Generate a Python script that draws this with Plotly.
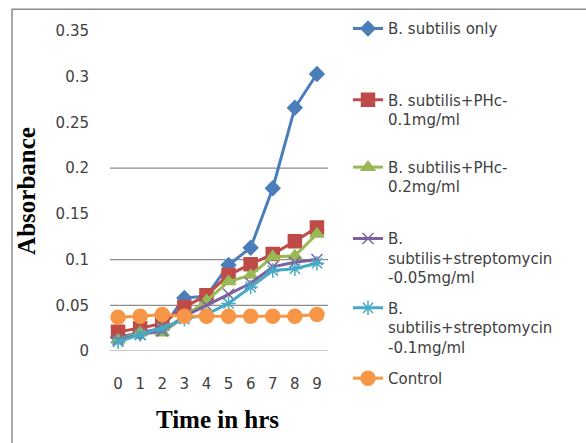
import plotly.graph_objects as go

# Growth curves: absorbance readings over time
hours = [0, 1, 2, 3, 4, 5, 6, 7, 8, 9]
hour_labels = [str(h) for h in hours]

bs_only = [0.015, 0.020, 0.025, 0.058, 0.060, 0.094, 0.113, 0.178, 0.266, 0.303]
bs_phc_01 = [0.021, 0.025, 0.030, 0.048, 0.061, 0.083, 0.095, 0.106, 0.120, 0.135]
bs_phc_02 = [0.012, 0.020, 0.020, 0.038, 0.055, 0.076, 0.083, 0.103, 0.104, 0.128]
bs_strep_005 = [0.012, 0.018, 0.022, 0.038, 0.050, 0.062, 0.074, 0.092, 0.097, 0.100]
bs_strep_01 = [0.010, 0.018, 0.025, 0.035, 0.040, 0.052, 0.070, 0.088, 0.090, 0.096]
control = [0.037, 0.038, 0.040, 0.038, 0.038, 0.038, 0.038, 0.038, 0.038, 0.040]

series_names = [
    "B. subtilis only",
    "B. subtilis+PHc-<br>0.1mg/ml",
    "B. subtilis+PHc-<br>0.2mg/ml",
    "B.<br>subtilis+streptomycin<br>-0.05mg/ml",
    "B.<br>subtilis+streptomycin<br>-0.1mg/ml",
    "Control",
]
series_values = [bs_only, bs_phc_01, bs_phc_02, bs_strep_005, bs_strep_01, control]

y_ticks = [0, 0.05, 0.1, 0.15, 0.2, 0.25, 0.3, 0.35]
y_tick_labels = ["0", "0.05", "0.1", "0.15", "0.2", "0.25", "0.3", "0.35"]
grid_values = [0, 0.05, 0.1, 0.2]

colors = ["#4A7EBB", "#BE4B48", "#98B954", "#7D60A0", "#46AAC5", "#F79646"]
symbols = ["diamond", "square", "triangle-up", "x-thin-open", "asterisk-open", "circle"]
marker_sizes = [11, 13, 12, 11, 12, 14]

# pixel geometry of the page
W, H = 586, 443
ML, MR, MT, MB = 107, 258, 28, 92
PW, PH = W - ML - MR, H - MT - MB


def px_x(p):
    return (p - ML) / PW


def px_y(p):
    return (H - MB - p) / PH


legend_tops = [9, 81, 149, 221, 291, 362]

fig = go.Figure()
for i, (name, vals) in enumerate(zip(series_names, series_values)):
    lg = "legend" if i == 0 else f"legend{i + 1}"
    fig.add_trace(go.Scatter(
        x=hour_labels, y=vals, name=name, mode="lines+markers",
        line=dict(color=colors[i], width=3),
        marker=dict(symbol=symbols[i], size=marker_sizes[i], color=colors[i],
                    line=dict(color=colors[i], width=1.5)),
        legend=lg,
    ))

legend_font = dict(family="DejaVu Sans", size=15, color="#404040")
legend_layouts = {}
for i, top in enumerate(legend_tops):
    key = "legend" if i == 0 else f"legend{i + 1}"
    legend_layouts[key] = dict(
        x=px_x(348), y=px_y(top), xanchor="left", yanchor="top",
        font=legend_font, bgcolor="rgba(0,0,0,0)", valign="top",
        itemwidth=30, tracegroupgap=0,
    )

shapes = []
for g in grid_values:
    shapes.append(dict(type="line", xref="paper", yref="y", x0=px_x(110), x1=1,
                       y0=g, y1=g, line=dict(color="#8C8C8C", width=1.2), layer="below"))
# outer chart frame
shapes.append(dict(type="rect", xref="paper", yref="paper",
                   x0=px_x(12), x1=px_x(W + 20), y0=px_y(H + 20), y1=px_y(6),
                   line=dict(color="#8C8C8C", width=1.5)))

fig.update_layout(
    width=W, height=H,
    margin=dict(l=ML, r=MR, t=MT, b=MB),
    paper_bgcolor="white", plot_bgcolor="white",
    showlegend=True,
    shapes=shapes,
    xaxis=dict(
        type="category", range=[-0.5, 9.5], showgrid=False, zeroline=False,
        showline=False, ticks="", ticklabelstandoff=22,
        tickfont=dict(family="DejaVu Sans", size=15, color="#404040"),
        title=dict(text="Time in hrs", standoff=18,
                   font=dict(family="Liberation Serif", size=25, color="black", weight="bold")),
    ),
    yaxis=dict(
        range=[0, 0.35], tickvals=y_ticks, ticktext=y_tick_labels,
        showgrid=False, zeroline=False, showline=False, ticks="",
        ticklabelstandoff=17,
        tickfont=dict(family="DejaVu Sans", size=15, color="#404040"),
        title=dict(text="Absorbance", standoff=12,
                   font=dict(family="Liberation Serif", size=25, color="black", weight="bold")),
    ),
    **legend_layouts,
)

fig.write_html("out.html")
